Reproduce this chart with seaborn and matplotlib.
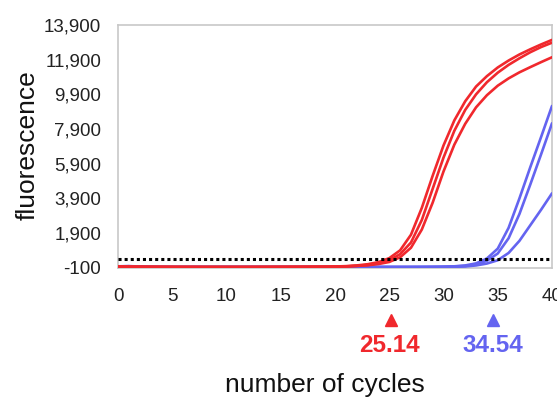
import matplotlib
matplotlib.use("Agg")
import matplotlib.pyplot as plt
import matplotlib.ticker as mticker
import seaborn as sns
import pandas as pd

cycles = list(range(0, 41))

red_1 = [-30, -40, -45, -50, -50, -55, -55, -55, -60, -60, -60, -60, -60, -55, -55,
         -55, -50, -50, -45, -40, -30, -10, 30, 100, 220, 450, 900, 1800, 3350, 5200,
         6950, 8400, 9500, 10350, 10950, 11450, 11850, 12200, 12500, 12780, 13040]
red_2 = [-40, -45, -50, -50, -55, -55, -60, -60, -60, -60, -60, -60, -60, -60, -55,
         -55, -55, -50, -50, -45, -40, -25, 10, 60, 150, 330, 680, 1350, 2650, 4450,
         6250, 7800, 9000, 9900, 10600, 11150, 11600, 11980, 12330, 12630, 12880]
red_3 = [-40, -45, -50, -55, -55, -60, -60, -60, -60, -60, -60, -60, -60, -60, -60,
         -55, -55, -55, -50, -50, -45, -30, 0, 40, 110, 230, 500, 1050, 2100, 3650,
         5450, 7000, 8200, 9150, 9850, 10400, 10820, 11170, 11470, 11760, 12040]
blue_1 = [-20, -10, -30, -50, -55, -60, -60, -60, -60, -60, -60, -60, -60, -60, -60,
          -60, -60, -60, -60, -60, -60, -60, -60, -60, -60, -60, -60, -58, -55, -50,
          -40, -20, 30, 150, 430, 1000, 2200, 3900, 5700, 7450, 9230]
blue_2 = [-25, -15, -35, -50, -55, -60, -60, -60, -60, -60, -60, -60, -60, -60, -60,
          -60, -60, -60, -60, -60, -60, -60, -60, -60, -60, -60, -60, -60, -58, -55,
          -50, -30, 0, 90, 300, 720, 1600, 3000, 4700, 6450, 8230]
blue_3 = [-30, -20, -40, -55, -60, -60, -60, -60, -60, -60, -60, -60, -60, -60, -60,
          -60, -60, -60, -60, -60, -60, -60, -60, -60, -60, -60, -60, -60, -60, -58,
          -55, -45, -30, 30, 140, 330, 750, 1450, 2350, 3250, 4190]

series = {"blue_1": blue_1, "blue_2": blue_2, "blue_3": blue_3,
          "red_1": red_1, "red_2": red_2, "red_3": red_3}
threshold = 400
ct_red = 25.14
ct_blue = 34.54
ct_labels = ["25.14", "34.54"]
x_ticks = list(range(0, 41, 5))
y_ticks = list(range(-100, 13901, 2000))

RED = "#f0282d"
BLUE = "#6464f0"

rows = []
for name, vals in series.items():
    for c, v in zip(cycles, vals):
        rows.append({"cycle": c, "fluorescence": v, "well": name})
df = pd.DataFrame(rows)

sns.set_style("white")
plt.rcParams["font.family"] = ["Liberation Sans", "DejaVu Sans"]

fig = plt.figure(figsize=(5.57, 4.05), dpi=100)
ax = fig.add_axes([118 / 557, 1 - 267.7 / 405, (552 - 118) / 557, (267.7 - 25) / 405])

palette = {"blue_1": BLUE, "blue_2": BLUE, "blue_3": BLUE,
           "red_1": RED, "red_2": RED, "red_3": RED}
sns.lineplot(data=df, x="cycle", y="fluorescence", hue="well", palette=palette,
             linewidth=1.9, legend=False, ax=ax, zorder=3)

ax.axhline(threshold, color="black", linestyle=(0, (1, 1)), linewidth=2.2, zorder=4)

ax.set_xlim(0, 40)
ax.set_ylim(-100, 13900)
ax.set_xticks(x_ticks)
ax.set_yticks(y_ticks)
ax.yaxis.set_major_formatter(mticker.FuncFormatter(lambda v, p: f"{int(v):,}"))
for s in ax.spines.values():
    s.set_color("#c8c8c8")
    s.set_linewidth(1.2)
ax.tick_params(axis="both", direction="out", length=5, width=1, color="#b4b4b4",
               labelsize=13.5, labelcolor="#222222")
ax.tick_params(axis="x", pad=9.5)
ax.tick_params(axis="y", pad=7)
ax.set_xlabel("")
ax.set_ylabel("")

fig.text(28 / 557, 1 - 145 / 405, "fluorescence", rotation=90, ha="center", va="center",
         fontsize=19, color="#111111")
fig.text(325 / 557, 1 - 385 / 405, "number of cycles", ha="center", va="center",
         fontsize=19, color="#111111")

trans = ax.get_xaxis_transform()
ax.plot([ct_red], [-0.2155], marker="^", markersize=9, color=RED, transform=trans,
        clip_on=False, linestyle="none")
ax.plot([ct_blue], [-0.2155], marker="^", markersize=9, color=BLUE, transform=trans,
        clip_on=False, linestyle="none")
ax.text(ct_red - 0.15, -0.322, ct_labels[0], color=RED, fontsize=17.5, fontweight="bold",
        ha="center", va="center", transform=trans)
ax.text(ct_blue, -0.322, ct_labels[1], color=BLUE, fontsize=17.5, fontweight="bold",
        ha="center", va="center", transform=trans)

fig.savefig("out.png", dpi=100)
